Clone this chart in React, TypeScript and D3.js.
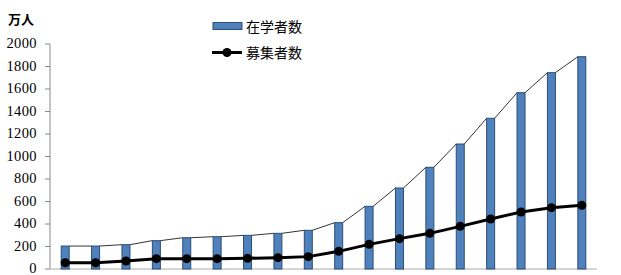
import React from "react";
import * as d3 from "d3";

const categories: string[] = Array.from({ length: 18 }, (_, i) => String(i + 1));
const enrolled: number[] = [204, 204, 216, 252, 278, 287, 299, 317, 344, 412, 557, 720, 904, 1111, 1340, 1567, 1745, 1887];
const recruited: number[] = [56, 56, 71, 92, 92, 92, 95, 101, 110, 157, 219, 270, 317, 379, 444, 507, 545, 566];
const yTicks: number[] = [0, 200, 400, 600, 800, 1000, 1200, 1400, 1600, 1800, 2000];
const seriesNames: string[] = ["在学者数", "募集者数"];
const unitLabel = "万人";

const W = 621, H = 275;
const left = 50, right = 597, top = 44, bottom = 269;

export default function App() {
  const x = d3.scaleBand<string>().domain(categories).range([left, right]).paddingInner(0).paddingOuter(0);
  const y = d3.scaleLinear().domain([0, 2000]).range([bottom, top]);
  const bw = 8;
  const cx = (c: string) => (x(c) as number) + x.bandwidth() / 2;
  const line = d3.line<number>().x((_, i) => cx(categories[i])).y((d) => y(d));
  const serif = "Liberation Serif";
  const cjk = "Noto Sans CJK JP";
  return (
    <svg width={W} height={H} style={{ position: "absolute", left: 0, top: 0, background: "#fff" }}>
      <text x={8} y={24} fontFamily={cjk} fontSize={13} fontWeight="bold" fill="#000">{unitLabel}</text>
      {/* y axis */}
      <line x1={left} x2={left} y1={top} y2={bottom} stroke="#888" strokeWidth={1} />
      {yTicks.map((t) => (
        <g key={t}>
          <line x1={left - 5} x2={left} y1={y(t)} y2={y(t)} stroke="#888" />
          <text x={37} y={y(t) - 0.5} dy="0.33em" textAnchor="end" fontFamily={serif} letterSpacing="0.4" fontSize={14.5} fill="#000">{t}</text>
        </g>
      ))}
      <line x1={left} x2={right} y1={bottom} y2={bottom} stroke="#aaa" strokeWidth={1} />
      {/* series lines */}
      {enrolled.slice(0, -1).map((v, i) => (
        <line key={"s" + i} x1={cx(categories[i]) + bw / 2} y1={y(v)} x2={cx(categories[i + 1]) - bw / 2} y2={y(enrolled[i + 1])} stroke="#000" strokeWidth={0.8} />
      ))}
      {/* bars */}
      {enrolled.map((v, i) => (
        <rect key={"b" + i} x={cx(categories[i]) - bw / 2} y={y(v)} width={bw} height={y(0) - y(v)} fill="#4F81BD" stroke="#2C4D75" strokeWidth={1} />
      ))}
      {/* line */}
      <path d={line(recruited) || ""} fill="none" stroke="#000" strokeWidth={3} />
      {recruited.map((v, i) => (
        <circle key={"c" + i} cx={cx(categories[i])} cy={y(v)} r={4.5} fill="#000" />
      ))}
      {/* legend */}
      <rect x={213} y={22.5} width={29} height={7} fill="#4F81BD" stroke="#2C4D75" strokeWidth={1} />
      <text x={246} y={27} dy="0.35em" fontFamily={cjk} fontSize={14} fill="#000">{seriesNames[0]}</text>
      <line x1={212} x2={242} y1={52.5} y2={52.5} stroke="#000" strokeWidth={3} />
      <circle cx={227} cy={52.5} r={4.5} fill="#000" />
      <text x={246} y={53} dy="0.35em" fontFamily={cjk} fontSize={14} fill="#000">{seriesNames[1]}</text>
    </svg>
  );
}
